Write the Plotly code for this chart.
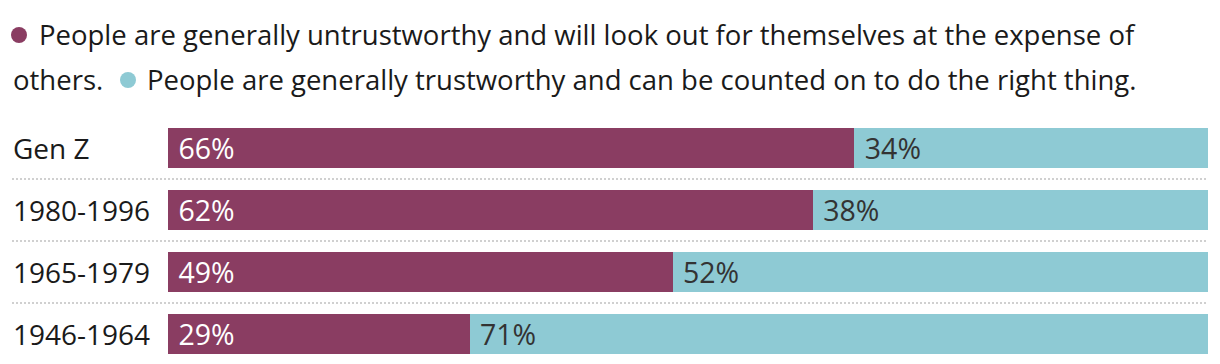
import plotly.graph_objects as go

categories = ["Gen Z", "1980-1996", "1965-1979", "1946-1964"]
untrustworthy = [66, 62, 49, 29]
trustworthy = [34, 38, 52, 71]
series_names = [
    "People are generally untrustworthy and will look out for themselves at the expense of others.",
    "People are generally trustworthy and can be counted on to do the right thing.",
]

PURPLE = "#8a3d62"
TEAL = "#8ecad4"
FONT = "Open Sans"
FS = 28
FS_LEG = 27.5
FS_BAR = 28.5

W, H = 1220, 364
ML, MR, MT, MB = 168, 12, 110, 0
PW, PH = W - ML - MR, H - MT - MB


def px(x):
    return (x - ML) / PW


def py(y):
    return (H - MB - y) / PH


NB = "\u00a0"
fig = go.Figure()
fig.add_trace(go.Bar(
    y=categories, x=untrustworthy, orientation="h", name=series_names[0],
    marker=dict(color=PURPLE, line=dict(width=0)), width=0.645,
    text=[f"{v}%" for v in untrustworthy], texttemplate=NB + "%{text}",
    textposition="inside", insidetextanchor="start",
    textfont=dict(color="white", size=FS_BAR, family=FONT), hoverinfo="skip",
))
fig.add_trace(go.Bar(
    y=categories, x=trustworthy, orientation="h", name=series_names[1],
    marker=dict(color=TEAL, line=dict(width=0)), width=0.645,
    text=[f"{v}%" for v in trustworthy], texttemplate=NB + "%{text}",
    textposition="inside", insidetextanchor="start",
    textfont=dict(color="#333333", size=FS_BAR, family=FONT), hoverinfo="skip",
))

shapes = []
for yy in [179, 241, 303]:
    shapes.append(dict(type="line", xref="paper", yref="paper", x0=px(12), x1=px(1208),
                       y0=py(yy), y1=py(yy), line=dict(color="#d0d0d0", width=2, dash="2px,2px"),
                       layer="below"))
# legend dots
for cx, cy, col in [(19, 35, PURPLE), (128, 80, TEAL)]:
    r = 8
    shapes.append(dict(type="circle", xref="paper", yref="paper",
                       x0=px(cx - r), x1=px(cx + r), y0=py(cy + r), y1=py(cy - r),
                       fillcolor=col, line=dict(width=0)))

annotations = []
for c in categories:
    annotations.append(dict(x=px(11), xref="paper", y=c, yref="y", xanchor="left", yanchor="middle",
                            text=c, showarrow=False, font=dict(size=FS, color="#1a1a1a", family=FONT)))

legend_font = dict(size=FS_LEG, color="#1a1a1a", family=FONT)
first_words = series_names[0].rsplit(" ", 1)
annotations.append(dict(x=px(37), xref="paper", y=py(34), yref="paper", xanchor="left", yanchor="middle",
                        text=first_words[0], showarrow=False, font=legend_font))
annotations.append(dict(x=px(11), xref="paper", y=py(79), yref="paper", xanchor="left", yanchor="middle",
                        text=first_words[1], showarrow=False, font=legend_font))
annotations.append(dict(x=px(145), xref="paper", y=py(79), yref="paper", xanchor="left", yanchor="middle",
                        text=series_names[1], showarrow=False, font=legend_font))

fig.update_layout(
    width=W, height=H, barmode="stack", barnorm="percent",
    margin=dict(l=ML, r=MR, t=MT, b=MB, pad=0),
    paper_bgcolor="white", plot_bgcolor="white", showlegend=False,
    xaxis=dict(range=[0, 100], visible=False, fixedrange=True),
    yaxis=dict(range=[3.484, -0.613], showticklabels=False, showgrid=False, zeroline=False,
               fixedrange=True),
    shapes=shapes, annotations=annotations,
    uniformtext=dict(minsize=FS_BAR, mode="show"),
    font=dict(family=FONT),
)

fig.write_html("out.html", config={"displayModeBar": False},
               post_script="document.body.style.margin='0';document.body.style.overflow='hidden';")
